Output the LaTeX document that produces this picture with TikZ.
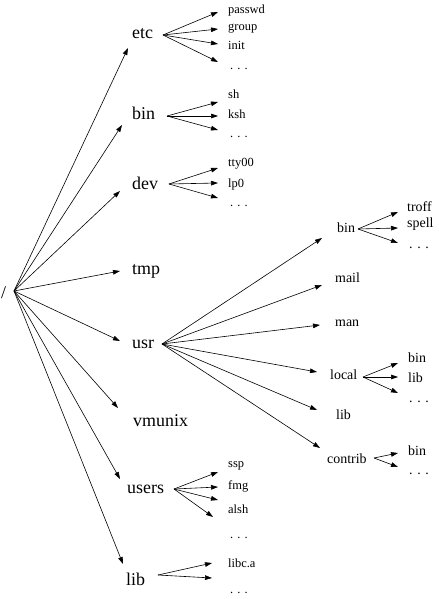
\documentclass[tikz,border=0pt]{standalone}
\usepackage{fontspec}
\setmainfont{Liberation Serif}
\usetikzlibrary{arrows.meta}
\tikzset{
  topl/.style={font=\fontsize{18}{18}\selectfont, anchor=base west, inner sep=0pt},
  midl/.style={font=\fontsize{14}{14}\selectfont, anchor=base west, inner sep=0pt},
  leafl/.style={font=\fontsize{12.5}{12.5}\selectfont, anchor=base west, inner sep=0pt},
  arr/.style={line width=0.6bp, -{Triangle[length=7bp,width=4.6bp]}}
}
\begin{document}
\begin{tikzpicture}[x=1bp,y=-1bp]
\useasboundingbox (0,0) rectangle (439,599);
% root
\node[topl] (root) at (1,298) {/};
% level 1
\node[topl] (etc) at (132,39) {etc};
\node[topl] (bin) at (132,120) {bin};
\node[topl] (dev) at (132,189) {dev};
\node[topl] (tmp) at (132,274) {tmp};
\node[topl] (usr) at (132,348) {usr};
\node[topl] (vmunix) at (133,426) {vmunix};
\node[topl] (users) at (127,493) {users};
\node[topl] (lib) at (126,585) {lib};
% etc leaves
\node[leafl] (passwd) at (228,14) {passwd};
\node[leafl] (group) at (228,31) {group};
\node[leafl] (init) at (228,50) {init};
\node[leafl] (etcd) at (230,70) {. . .};
% bin leaves
\node[leafl] (sh) at (228,99) {sh};
\node[leafl] (ksh) at (228,119) {ksh};
\node[leafl] (bind) at (230,138) {. . .};
% dev leaves
\node[leafl] (tty) at (228,167) {tty00};
\node[leafl] (lp) at (228,187) {lp0};
\node[leafl] (devd) at (230,206) {. . .};
% users leaves
\node[leafl] (ssp) at (228,467) {ssp};
\node[leafl] (fmg) at (228,489) {fmg};
\node[leafl] (alsh) at (228,513) {alsh};
\node[leafl] (usersd) at (230,538) {. . .};
% lib leaves
\node[leafl] (libca) at (228,567) {libc.a};
\node[leafl] (libd) at (230,593) {. . .};
% usr children
\node[midl] (ubin) at (337,232) {bin};
\node[midl] (mail) at (335,282) {mail};
\node[midl] (man) at (335,326) {man};
\node[midl] (local) at (330,379) {local};
\node[midl] (ulib) at (336,419) {lib};
\node[midl] (contrib) at (327,463) {contrib};
% usr/bin leaves
\node[midl] (troff) at (407,211) {troff};
\node[midl] (spell) at (407,227) {spell};
\node[midl] (ubind) at (409,248) {. . .};
% local leaves
\node[midl] (lbin) at (408,362) {bin};
\node[midl] (llib) at (408,382) {lib};
\node[midl] (locald) at (409,402) {. . .};
% contrib leaves
\node[midl] (cbin) at (408,455) {bin};
\node[midl] (contribd) at (409,474) {. . .};

% sources
\coordinate (root-s) at (14,291);
\coordinate (etc-s) at (163,35);
\coordinate (bin-s) at (167,116);
\coordinate (dev-s) at (169,184);
\coordinate (usr-s) at (162,344);
\coordinate (users-s) at (174,489);
\coordinate (lib-s) at (158,575);
\coordinate (ubin-s) at (358,229);
\coordinate (local-s) at (363,377);
\coordinate (contrib-s) at (374,458);
% ends
\coordinate (etc-e) at (128,48);
\coordinate (bin-e) at (122,125);
\coordinate (dev-e) at (120,191);
\coordinate (tmp-e) at (120,271);
\coordinate (usr-e) at (120,341);
\coordinate (vmunix-e) at (118,408);
\coordinate (users-e) at (120,479);
\coordinate (lib-e) at (123,564);
\coordinate (passwd-e) at (218,12);
\coordinate (group-e) at (218,29);
\coordinate (init-e) at (218,44);
\coordinate (etcd-e) at (218,62);
\coordinate (sh-e) at (218,102);
\coordinate (ksh-e) at (218,116);
\coordinate (bind-e) at (218,130);
\coordinate (tty-e) at (218,168);
\coordinate (lp-e) at (218,183);
\coordinate (devd-e) at (218,198);
\coordinate (ssp-e) at (218,472);
\coordinate (fmg-e) at (218,487);
\coordinate (alsh-e) at (218,500);
\coordinate (usersd-e) at (213,517);
\coordinate (libca-e) at (212,563);
\coordinate (libd-e) at (212,578);
\coordinate (ubin-e) at (322,238);
\coordinate (mail-e) at (322,285);
\coordinate (man-e) at (320,325);
\coordinate (local-e) at (317,372);
\coordinate (ulib-e) at (317,410);
\coordinate (contrib-e) at (320,448);
\coordinate (troff-e) at (398,212);
\coordinate (spell-e) at (398,228);
\coordinate (ubind-e) at (398,243);
\coordinate (lbin-e) at (398,363);
\coordinate (llib-e) at (398,377);
\coordinate (locald-e) at (398,393);
\coordinate (cbin-e) at (398,453);
\coordinate (contribd-e) at (398,467);

\foreach \t in {etc,bin,dev,tmp,usr,vmunix,users,lib}
  \draw[arr] (root-s) -- (\t-e);
\foreach \t in {passwd,group,init,etcd}
  \draw[arr] (etc-s) -- (\t-e);
\foreach \t in {sh,ksh,bind}
  \draw[arr] (bin-s) -- (\t-e);
\foreach \t in {tty,lp,devd}
  \draw[arr] (dev-s) -- (\t-e);
\foreach \t in {ssp,fmg,alsh,usersd}
  \draw[arr] (users-s) -- (\t-e);
\foreach \t in {libca,libd}
  \draw[arr] (lib-s) -- (\t-e);
\foreach \t in {ubin,mail,man,local,ulib,contrib}
  \draw[arr] (usr-s) -- (\t-e);
\foreach \t in {troff,spell,ubind}
  \draw[arr] (ubin-s) -- (\t-e);
\foreach \t in {lbin,llib,locald}
  \draw[arr] (local-s) -- (\t-e);
\foreach \t in {cbin,contribd}
  \draw[arr] (contrib-s) -- (\t-e);
\end{tikzpicture}
\end{document}
